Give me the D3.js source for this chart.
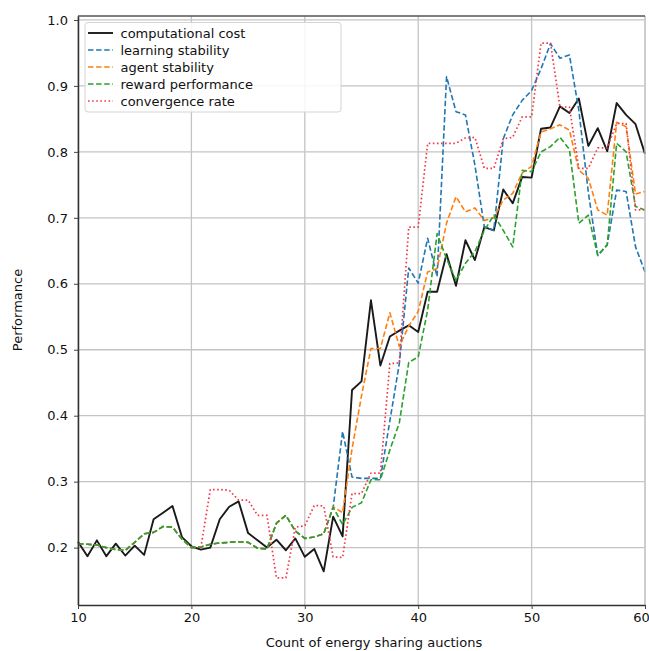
<!DOCTYPE html>
<html>
<head>
<meta charset="utf-8">
<script src="https://cdn.jsdelivr.net/npm/d3@7"></script>
<style>
  html, body { margin: 0; padding: 0; background: #fff; }
  svg { display: block; font-family: "DejaVu Sans", Verdana, sans-serif; }
</style>
</head>
<body>
<svg id="chart" width="649" height="651"></svg>
<script>
// Auction counts sampled between 10 and 60 (61 evenly spaced runs)
const auctions = d3.range(61).map(i => 10 + i * 50 / 60);

const xTicks = [10, 20, 30, 40, 50, 60];
const yTicks = [0.2, 0.3, 0.4, 0.5, 0.6, 0.7, 0.8, 0.9, 1.0];

const computationalCost = [
  0.209, 0.187, 0.211, 0.187, 0.206, 0.188, 0.203, 0.189, 0.243, 0.253,
  0.263, 0.216, 0.202, 0.197, 0.200, 0.243, 0.262, 0.270, 0.222, 0.211,
  0.200, 0.212, 0.196, 0.214, 0.186, 0.198, 0.164, 0.247, 0.217, 0.439,
  0.452, 0.575, 0.476, 0.520, 0.529, 0.537, 0.527, 0.588, 0.588, 0.645,
  0.597, 0.666, 0.636, 0.686, 0.681, 0.743, 0.722, 0.762, 0.761, 0.835,
  0.837, 0.869, 0.859, 0.881, 0.809, 0.836, 0.801, 0.874, 0.856, 0.842,
  0.797
];

const learningStability = [
  0.206, 0.205, 0.204, 0.200, 0.197, 0.196, 0.208, 0.221, 0.223, 0.232,
  0.231, 0.213, 0.200, 0.201, 0.205, 0.207, 0.208, 0.209, 0.208, 0.199,
  0.198, 0.237, 0.249, 0.225, 0.214, 0.216, 0.221, 0.261, 0.376, 0.307,
  0.305, 0.305, 0.305, 0.392, 0.479, 0.624, 0.601, 0.669, 0.611, 0.914,
  0.861, 0.856, 0.780, 0.686, 0.681, 0.820, 0.856, 0.878, 0.893, 0.926,
  0.964, 0.942, 0.947, 0.863, 0.739, 0.643, 0.659, 0.742, 0.740, 0.656,
  0.618
];

const agentStability = [
  0.206, 0.205, 0.204, 0.200, 0.197, 0.196, 0.208, 0.221, 0.223, 0.232,
  0.231, 0.213, 0.200, 0.201, 0.205, 0.207, 0.208, 0.209, 0.208, 0.199,
  0.198, 0.237, 0.249, 0.225, 0.214, 0.216, 0.221, 0.262, 0.253, 0.350,
  0.430, 0.502, 0.502, 0.556, 0.505, 0.536, 0.558, 0.618, 0.623, 0.692,
  0.732, 0.709, 0.715, 0.696, 0.700, 0.727, 0.737, 0.768, 0.778, 0.830,
  0.835, 0.841, 0.833, 0.772, 0.760, 0.712, 0.704, 0.845, 0.838, 0.736,
  0.740
];

const rewardPerformance = [
  0.206, 0.205, 0.204, 0.200, 0.197, 0.196, 0.208, 0.221, 0.223, 0.232,
  0.231, 0.213, 0.200, 0.201, 0.205, 0.207, 0.208, 0.209, 0.208, 0.199,
  0.198, 0.237, 0.249, 0.225, 0.214, 0.216, 0.221, 0.261, 0.235, 0.261,
  0.268, 0.303, 0.303, 0.348, 0.389, 0.481, 0.489, 0.560, 0.676, 0.638,
  0.605, 0.631, 0.649, 0.681, 0.704, 0.681, 0.656, 0.772, 0.770, 0.800,
  0.808, 0.822, 0.804, 0.692, 0.704, 0.643, 0.659, 0.813, 0.800, 0.717,
  0.712
];

// convergence rate is only recorded from the 14th run onward
const convergenceRate = [
  null, null, null, null, null, null, null, null, null, null,
  null, null, null, 0.200, 0.288, 0.288, 0.287, 0.272, 0.272, 0.249,
  0.249, 0.154, 0.154, 0.231, 0.233, 0.264, 0.263, 0.186, 0.185, 0.282,
  0.282, 0.313, 0.313, 0.479, 0.480, 0.686, 0.686, 0.813, 0.813, 0.813,
  0.813, 0.821, 0.822, 0.775, 0.775, 0.820, 0.822, 0.853, 0.853, 0.965,
  0.965, 0.868, 0.868, 0.775, 0.775, 0.806, 0.806, 0.843, 0.843, 0.712,
  0.712
];

const seriesNames = ["computational cost", "learning stability", "agent stability",
                     "reward performance", "convergence rate"];
const seriesValues = [computationalCost, learningStability, agentStability,
                      rewardPerformance, convergenceRate];
const seriesColors = ["#1a1a1a", "#1f77b4", "#ff7f0e", "#2ca02c", "#f03a4a"];
const seriesDash = [null, "5.5,2.6", "5.5,2.6", "5.5,2.6", "1.6,2.5"];
const seriesWidth = [1.9, 1.6, 1.6, 1.6, 1.7];

const svg = d3.select("#chart");
const plotLeft = 78, plotRight = 645, plotTop = 16, plotBottom = 605;

const x = d3.scaleLinear().domain([10, 60]).range([plotLeft, plotRight]);
const y = d3.scaleLinear().domain([0.113, 1.006]).range([plotBottom, plotTop]);

// grid
const grid = svg.append("g");
grid.selectAll("line.gx").data(xTicks).join("line")
  .attr("class", "gx")
  .attr("x1", d => x(d)).attr("x2", d => x(d))
  .attr("y1", plotTop).attr("y2", plotBottom)
  .attr("stroke", "#c4c4c4").attr("stroke-width", 1.3);
grid.selectAll("line.gy").data(yTicks).join("line")
  .attr("class", "gy")
  .attr("x1", plotLeft).attr("x2", plotRight)
  .attr("y1", d => y(d)).attr("y2", d => y(d))
  .attr("stroke", "#c4c4c4").attr("stroke-width", 1.3);

// series
const plot = svg.append("g");
seriesValues.forEach((vals, k) => {
  const line = d3.line()
    .defined(d => d[1] !== null)
    .x(d => x(d[0]))
    .y(d => y(d[1]));
  plot.append("path")
    .datum(auctions.map((a, i) => [a, vals[i]]))
    .attr("d", line)
    .attr("fill", "none")
    .attr("stroke", seriesColors[k])
    .attr("stroke-width", seriesWidth[k])
    .attr("stroke-dasharray", seriesDash[k])
    .attr("stroke-linejoin", "round");
});

// frame
svg.append("line").attr("x1", plotRight).attr("x2", plotRight)
  .attr("y1", plotTop).attr("y2", plotBottom)
  .attr("stroke", "#c8c8c8").attr("stroke-width", 1.3);
svg.append("line").attr("x1", plotLeft).attr("x2", plotRight)
  .attr("y1", plotTop).attr("y2", plotTop)
  .attr("stroke", "#555").attr("stroke-width", 1.3);

// axes
const xAxis = d3.axisBottom(x).tickValues(xTicks).tickFormat(d3.format("d"))
  .tickSize(4).tickPadding(4).tickSizeOuter(0);
const yAxis = d3.axisLeft(y).tickValues(yTicks).tickFormat(d3.format(".1f"))
  .tickSize(4).tickPadding(6).tickSizeOuter(0);

const gx = svg.append("g").attr("transform", `translate(0,${plotBottom})`).call(xAxis);
const gy = svg.append("g").attr("transform", `translate(${plotLeft},0)`).call(yAxis);
[gx, gy].forEach(g => {
  g.select(".domain").attr("stroke", "#333").attr("stroke-width", 1.5);
  g.selectAll(".tick line").attr("stroke", "#444");
  g.selectAll(".tick text").attr("fill", "#111").style("font-size", "13px")
    .style("font-family", "'DejaVu Sans', Verdana, sans-serif");
});
// keep the last x label inside the canvas edge
gx.selectAll(".tick text").filter(d => d === 60).attr("dx", "-4");

// axis titles
svg.append("text")
  .attr("x", 374).attr("y", 647)
  .attr("text-anchor", "middle")
  .style("font-size", "13px").attr("fill", "#111")
  .text("Count of energy sharing auctions");
svg.append("text")
  .attr("transform", "translate(22,310) rotate(-90)")
  .attr("text-anchor", "middle")
  .style("font-size", "13px").attr("fill", "#111")
  .text("Performance");

// legend
const lg = svg.append("g");
lg.append("rect")
  .attr("x", 85).attr("y", 22.5).attr("width", 256).attr("height", 89.5)
  .attr("rx", 3).attr("fill", "#fff").attr("fill-opacity", 0.85)
  .attr("stroke", "#d4d4d4").attr("stroke-width", 1);
seriesNames.forEach((name, k) => {
  const yy = 33 + k * 17;
  lg.append("line")
    .attr("x1", 88).attr("x2", 113).attr("y1", yy).attr("y2", yy)
    .attr("stroke", seriesColors[k])
    .attr("stroke-width", seriesWidth[k])
    .attr("stroke-dasharray", seriesDash[k]);
  lg.append("text")
    .attr("x", 120.5).attr("y", yy + 4.5)
    .style("font-size", "13px").attr("fill", "#111")
    .text(name);
});
</script>
</body>
</html>
